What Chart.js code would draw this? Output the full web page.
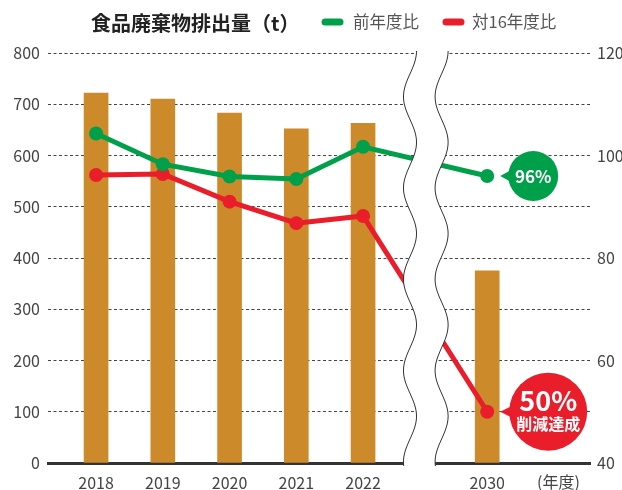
<!DOCTYPE html>
<html lang="ja">
<head>
<meta charset="utf-8">
<script src="https://cdn.jsdelivr.net/npm/chart.js@4/dist/chart.umd.min.js"></script>
<style>
  html, body { margin: 0; padding: 0; background: #fff; }
  #wrap { width: 622px; height: 490px; }
</style>
</head>
<body>
<div id="wrap"><canvas id="wasteChart" width="622" height="490"></canvas></div>
<script>
  // データ
  const years = ['2018', '2019', '2020', '2021', '2022', '2030'];
  const wasteTons = [722, 710, 683, 652, 663, 375];       // 食品廃棄物排出量（t）
  const vsPrevYear = [104.3, 98.3, 95.9, 95.4, 101.7, 96]; // 前年度比（%）
  const vs2016 = [96.2, 96.4, 91, 86.8, 88.2, 50];         // 対16年度比（%）
  const leftTicks = [0, 100, 200, 300, 400, 500, 600, 700, 800];
  const rightTicks = [40, 60, 80, 100, 120];

  const FONT = "'Noto Sans CJK JP', 'Noto Sans', sans-serif";
  const BAR = '#CC8A2B';
  const GREEN = '#00A04B';
  const RED = '#EA1D2A';

  // 横軸の位置（2022と2030の間に省略の波線）
  const GAP = 1.86;
  const slots = years.map((y, i) => (i < years.length - 1 ? i : i - 1 + GAP));
  const BREAK_AT = 4.94;

  const pts = arr => arr.map((v, i) => ({ x: slots[i], y: v }));

  function wave(ctx, cx, top, bottom, amp, period) {
    for (let y = top; y <= bottom; y += 1) {
      const x = cx + amp * Math.cos(2 * Math.PI * (y - top) / period);
      if (y === top) ctx.moveTo(x, y); else ctx.lineTo(x, y);
    }
  }

  const decor = {
    id: 'decor',
    afterDatasetsDraw(chart) {
      const { ctx, chartArea, scales } = chart;
      const cx = scales.x.getPixelForValue(BREAK_AT);
      const top = chartArea.top - 2, bottom = chartArea.bottom + 3;
      const amp = 6.5, period = 91.3, half = 15.8;

      // 省略部分（白抜き＋波線）
      ctx.save();
      ctx.beginPath();
      wave(ctx, cx - half, top, bottom, amp, period);
      for (let y = bottom; y >= top; y -= 1) {
        ctx.lineTo(cx + half + amp * Math.cos(2 * Math.PI * (y - top) / period), y);
      }
      ctx.closePath();
      ctx.fillStyle = '#fff';
      ctx.fill();
      ctx.strokeStyle = '#333';
      ctx.lineWidth = 1;
      ctx.beginPath(); wave(ctx, cx - half, top, bottom, amp, period); ctx.stroke();
      ctx.beginPath(); wave(ctx, cx + half, top, bottom, amp, period); ctx.stroke();
      ctx.restore();

      // 吹き出し
      const last = years.length - 1;
      const g = chart.getDatasetMeta(1).data[last];
      const r = chart.getDatasetMeta(2).data[last];
      bubble(ctx, g.x, g.y, 46, 25, GREEN);
      bubble(ctx, r.x, r.y, 61, 39, RED);
      ctx.save();
      ctx.fillStyle = '#fff';
      ctx.textAlign = 'center';
      ctx.textBaseline = 'middle';
      ctx.font = `bold 17px ${FONT}`;
      ctx.fillText(vsPrevYear[last] + '%', g.x + 46, g.y + 1);
      ctx.font = `bold 27px ${FONT}`;
      ctx.fillText(vs2016[last] + '%', r.x + 61, r.y - 11);
      ctx.font = `bold 16px ${FONT}`;
      ctx.fillText('削減達成', r.x + 61, r.y + 12);
      ctx.restore();
    },
    afterDraw(chart) {
      const { ctx } = chart;
      ctx.save();
      ctx.textBaseline = 'middle';
      ctx.fillStyle = '#222';
      ctx.font = `bold 20px ${FONT}`;
      ctx.fillText('食品廃棄物排出量（t）', 91, 23);

      ctx.font = `16.5px ${FONT}`;
      ctx.lineCap = 'round';
      ctx.lineWidth = 7;
      [[chart.data.datasets[1], 325, 353], [chart.data.datasets[2], 446, 472]].forEach(([ds, lx, tx]) => {
        ctx.strokeStyle = ds.borderColor;
        ctx.beginPath(); ctx.moveTo(lx, 22); ctx.lineTo(lx + 15, 22); ctx.stroke();
        ctx.fillStyle = '#555';
        ctx.fillText(ds.label, tx, 22);
      });

      ctx.fillStyle = '#444';
      ctx.font = `16px ${FONT}`;
      ctx.fillText('(年度)', 537, 482);
      ctx.restore();
    }
  };

  function bubble(ctx, px, py, dx, rad, color) {
    ctx.save();
    ctx.fillStyle = color;
    ctx.beginPath();
    ctx.arc(px + dx, py, rad, 0, Math.PI * 2);
    ctx.fill();
    ctx.beginPath();
    ctx.moveTo(px + 13, py);
    ctx.lineTo(px + dx - rad + 3, py - 6);
    ctx.lineTo(px + dx - rad + 3, py + 6);
    ctx.closePath();
    ctx.fill();
    ctx.restore();
  }

  new Chart(document.getElementById('wasteChart'), {
    type: 'bar',
    data: {
      datasets: [{
        label: '食品廃棄物排出量（t）',
        data: pts(wasteTons),
        backgroundColor: BAR,
        barThickness: 24,
        yAxisID: 'y',
        order: 3
      }, {
        type: 'line',
        label: '前年度比',
        data: pts(vsPrevYear),
        borderColor: GREEN,
        backgroundColor: GREEN,
        borderWidth: 5,
        pointRadius: 7,
        pointBorderWidth: 0,
        yAxisID: 'y1',
        order: 1
      }, {
        type: 'line',
        label: '対16年度比',
        data: pts(vs2016),
        borderColor: RED,
        backgroundColor: RED,
        borderWidth: 5,
        pointRadius: 7,
        pointBorderWidth: 0,
        yAxisID: 'y1',
        order: 2
      }]
    },
    options: {
      responsive: false,
      animation: false,
      layout: { padding: { top: 53, left: 0, right: 0, bottom: 0 } },
      plugins: {
        legend: { display: false },
        tooltip: { enabled: false }
      },
      scales: {
        x: {
          type: 'linear',
          offset: false,
          min: -0.72,
          max: 7.40,
          afterBuildTicks: s => { s.ticks = slots.map(v => ({ value: v })); },
          afterFit: s => { s.height = 27; },
          grid: { display: true, offset: false, drawOnChartArea: false, drawTicks: false, color: 'rgba(0,0,0,0)' },
          border: { display: true, color: '#333', width: 3 },
          ticks: {
            autoSkip: false,
            maxRotation: 0,
            padding: 10,
            color: '#444',
            font: { family: FONT, size: 16 },
            callback: v => years[slots.indexOf(v)]
          }
        },
        y: {
          position: 'left',
          min: 0,
          max: 800,
          afterBuildTicks: s => { s.ticks = leftTicks.map(v => ({ value: v })); },
          afterFit: s => { s.width = 48; },
          grid: {
            drawTicks: false,
            color: c => (c.tick && c.tick.value === 0 ? 'rgba(0,0,0,0)' : '#444'),
            lineWidth: 1
          },
          border: { display: false, dash: [3, 2.5] },
          ticks: { padding: 8, color: '#444', font: { family: FONT, size: 16 } }
        },
        y1: {
          position: 'right',
          min: 40,
          max: 120,
          afterBuildTicks: s => { s.ticks = rightTicks.map(v => ({ value: v })); },
          afterFit: s => { s.width = 32; },
          grid: { drawOnChartArea: false, drawTicks: false },
          border: { display: false },
          ticks: { padding: 7, color: '#444', font: { family: FONT, size: 16 } }
        }
      }
    },
    plugins: [decor]
  });
</script>
</body>
</html>
